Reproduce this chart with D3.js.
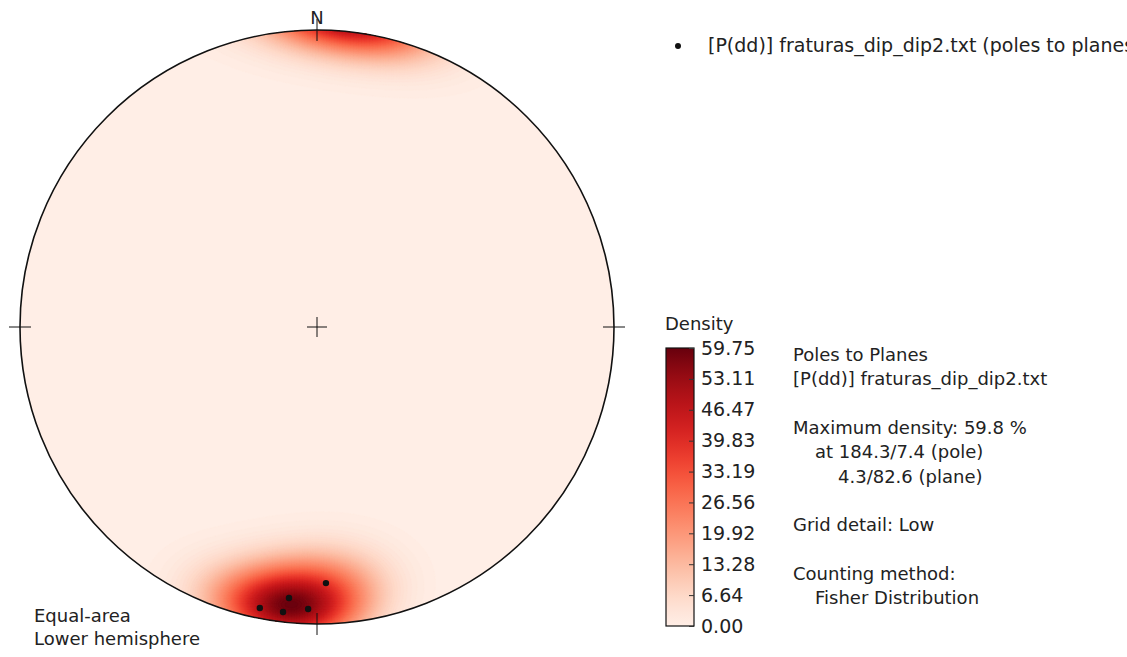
<!DOCTYPE html>
<html>
<head>
<meta charset="utf-8">
<script src="https://cdn.jsdelivr.net/npm/d3@7"></script>
<style>
  body { margin: 0; background: #fff; }
  text { font-family: "DejaVu Sans", sans-serif; fill: #222; }
</style>
</head>
<body>
<svg id="chart" width="1127" height="657"></svg>
<script>
// planes read from [P(dd)] fraturas_dip_dip2.txt (dip direction / dip)
const dipDirections = [11.5, 6.8, 5.9, 1.8, 358.0]
const dips = [86.1, 86.2, 80.9, 84.4, 75.2]

const colorbarTicks = [0.00, 6.64, 13.28, 19.92, 26.56, 33.19, 39.83, 46.47, 53.11, 59.75]
const maxDensity = 59.75
const fisherKappa = 40

const infoLines = [
  {text: "Poles to Planes", indent: 0},
  {text: "[P(dd)] fraturas_dip_dip2.txt", indent: 0},
  {text: "", indent: 0},
  {text: "Maximum density: 59.8 %", indent: 0},
  {text: "at 184.3/7.4 (pole)", indent: 22},
  {text: "4.3/82.6 (plane)", indent: 45},
  {text: "", indent: 0},
  {text: "Grid detail: Low", indent: 0},
  {text: "", indent: 0},
  {text: "Counting method:", indent: 0},
  {text: "Fisher Distribution", indent: 22}
]

const cx = 317, cy = 327, R = 297
const rad = Math.PI / 180

const svg = d3.select('#chart')

var x = d3.scaleLinear().domain([-1, 1]).range([cx - R, cx + R])
var y = d3.scaleLinear().domain([-1, 1]).range([cy + R, cy - R])

// poles: trend/plunge
var poles = dipDirections.map(function(dd, i) {
  return {trend: (dd + 180) % 360, plunge: 90 - dips[i]}
})

function project(trend, plunge) {
  var r = Math.SQRT2 * Math.sin((90 - plunge) / 2 * rad)
  return [r * Math.sin(trend * rad), r * Math.cos(trend * rad)]
}
function dirCos(trend, plunge) {
  return [Math.cos(plunge * rad) * Math.cos(trend * rad),
          Math.cos(plunge * rad) * Math.sin(trend * rad),
          Math.sin(plunge * rad)]
}
var poleVecs = poles.map(function(p) { return dirCos(p.trend, p.plunge) })

// density grid (axial fisher counting) over the net
const n = 220
var cell = 2 * R / n
var values = new Array(n * n)
var rawMax = 0
for (var j = 0; j < n; j++) {
  for (var i = 0; i < n; i++) {
    var ux = x.invert(cx - R + (i + 0.5) * cell)
    var uy = y.invert(cy - R + (j + 0.5) * cell)
    var r = Math.min(Math.sqrt(ux * ux + uy * uy), 1)
    var plunge = 90 - 2 * Math.asin(r / Math.SQRT2) / rad
    var trend = Math.atan2(ux, uy) / rad
    var v = dirCos(trend, plunge)
    var s = 0
    poleVecs.forEach(function(p) {
      var c = Math.abs(v[0] * p[0] + v[1] * p[1] + v[2] * p[2])
      s += Math.exp(fisherKappa * (c - 1))
    })
    s = s * 100 / poles.length
    values[j * n + i] = s
    if (s > rawMax) rawMax = s
  }
}
values = values.map(function(d) { return d * maxDensity / rawMax })

var color = function(d) { return d3.interpolateReds(0.04 + 0.96 * d / maxDensity) }

svg.append("clipPath").attr("id", "net")
  .append("circle").attr("cx", cx).attr("cy", cy).attr("r", R)

var levels = d3.range(0, maxDensity, 0.75)
var contours = d3.contours().size([n, n]).thresholds(levels)(values)
var path = d3.geoPath(d3.geoIdentity().scale(cell).translate([cx - R, cy - R]))

svg.append("g").attr("clip-path", "url(#net)")
  .selectAll("path")
  .data(contours)
  .enter().append("path")
  .attr("d", path)
  .attr("fill", function(d) { return color(d.value) })
  .attr("stroke", function(d) { return color(d.value) })
  .attr("stroke-width", 0.5)

// primitive circle and cross marks
svg.append("circle")
  .attr("cx", cx).attr("cy", cy).attr("r", R)
  .attr("fill", "none").attr("stroke", "#111").attr("stroke-width", 1.6)

var marks = [[0, 1], [1, 0], [0, -1], [-1, 0]]
svg.selectAll(".mark")
  .data(marks)
  .enter().append("line")
  .attr("x1", function(d) { return x(d[0]) - (d[0] ? 11 : 0) })
  .attr("x2", function(d) { return x(d[0]) + (d[0] ? 11 : 0) })
  .attr("y1", function(d) { return y(d[1]) - (d[1] ? 11 : 0) })
  .attr("y2", function(d) { return y(d[1]) + (d[1] ? 11 : 0) })
  .attr("stroke", "#111").attr("stroke-width", 1)

svg.append("line").attr("x1", x(0) - 10).attr("x2", x(0) + 10).attr("y1", y(0)).attr("y2", y(0))
  .attr("stroke", "#111").attr("stroke-width", 1)
svg.append("line").attr("x1", x(0)).attr("x2", x(0)).attr("y1", y(0) - 10).attr("y2", y(0) + 10)
  .attr("stroke", "#111").attr("stroke-width", 1)

svg.append("text").attr("x", x(0)).attr("y", y(1) - 6)
  .attr("text-anchor", "middle").style("font-size", "18px").text("N")

// poles
svg.selectAll(".pole")
  .data(poles)
  .enter().append("circle")
  .attr("cx", function(d) { return x(project(d.trend, d.plunge)[0]) })
  .attr("cy", function(d) { return y(project(d.trend, d.plunge)[1]) })
  .attr("r", 3.2)
  .attr("fill", "#111")

svg.append("text").attr("x", 34).attr("y", 622).style("font-size", "18px").text("Equal-area")
svg.append("text").attr("x", 34).attr("y", 645).style("font-size", "18px").text("Lower hemisphere")

// legend
svg.append("circle").attr("cx", 678).attr("cy", 46).attr("r", 3).attr("fill", "#111")
svg.append("text").attr("x", 708).attr("y", 52).style("font-size", "19px")
  .text("[P(dd)] fraturas_dip_dip2.txt (poles to planes)")

// colorbar
var cbX = 666, cbW = 28
var cbScale = d3.scaleLinear().domain([0, maxDensity]).range([626, 348])

var grad = svg.append("defs").append("linearGradient")
  .attr("id", "cbgrad").attr("x1", 0).attr("x2", 0).attr("y1", 1).attr("y2", 0)
grad.selectAll("stop")
  .data(d3.range(0, 1.0001, 0.05))
  .enter().append("stop")
  .attr("offset", function(d) { return d })
  .attr("stop-color", function(d) { return color(d * maxDensity) })

svg.append("rect")
  .attr("x", cbX).attr("y", cbScale(maxDensity))
  .attr("width", cbW).attr("height", cbScale(0) - cbScale(maxDensity))
  .attr("fill", "url(#cbgrad)").attr("stroke", "#111").attr("stroke-width", 1.2)

var cbAxis = d3.axisRight(cbScale)
  .tickValues(colorbarTicks)
  .tickFormat(d3.format(".2f"))
  .tickSize(-5)
  .tickPadding(7)

var cbg = svg.append("g").attr("transform", "translate(" + (cbX + cbW) + ",0)").call(cbAxis)
cbg.select(".domain").remove()
cbg.selectAll("line").attr("stroke", "#333")
cbg.selectAll("text").attr("font-family", "DejaVu Sans").style("font-size", "19px").attr("fill", "#222")

svg.append("text").attr("x", 665).attr("y", 330).style("font-size", "18px").text("Density")

// info block
svg.selectAll(".info")
  .data(infoLines)
  .enter().append("text")
  .attr("x", function(d) { return 793 + d.indent })
  .attr("y", function(d, i) { return 361 + i * 24.3 })
  .style("font-size", "18px")
  .text(function(d) { return d.text })
</script>
</body>
</html>
